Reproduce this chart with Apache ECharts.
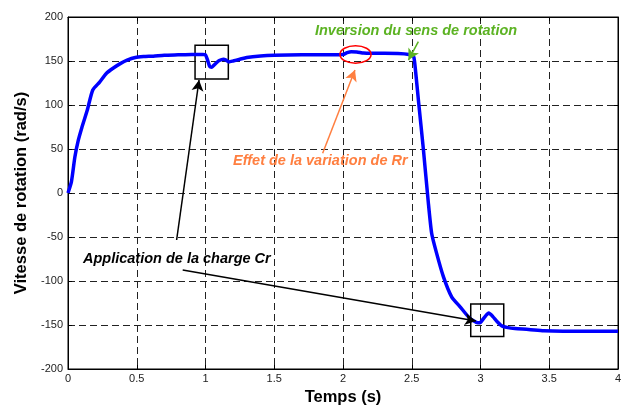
<!DOCTYPE html>
<html>
<head>
<meta charset="utf-8">
<script src="https://cdn.jsdelivr.net/npm/echarts@6/dist/echarts.min.js"></script>
<style>
  html, body { margin: 0; padding: 0; background: #fff; }
  #chart { width: 630px; height: 406px; }
</style>
</head>
<body>
<div id="chart"></div>
<script>
// Time samples (s) and rotor speed (rad/s)
const temps = [0, 0.025, 0.05, 0.075, 0.1, 0.14, 0.18, 0.23, 0.28, 0.33, 0.38, 0.43, 0.49, 0.55, 0.62, 0.7, 0.8, 0.9, 0.98,
  1.0, 1.015, 1.03, 1.045, 1.06, 1.08, 1.1, 1.13, 1.15, 1.17, 1.2, 1.25, 1.3, 1.4, 1.5, 1.7, 1.9,
  2.0, 2.03, 2.06, 2.1, 2.15, 2.2, 2.3, 2.4, 2.48, 2.51, 2.52, 2.55, 2.585, 2.62, 2.645, 2.68, 2.73, 2.79, 2.85, 2.92, 2.98,
  3.0, 3.03, 3.06, 3.09, 3.12, 3.155, 3.2, 3.25, 3.35, 3.46, 3.6, 4.0];
const vitesse = [0, 13, 41, 60, 74, 94, 117, 126, 136, 142, 147, 151, 154, 155, 155.5, 156.5, 157, 157.5, 157.5,
  157, 151, 144, 143, 145, 148, 150.5, 152, 151, 149, 150, 152, 154, 155.7, 156.5, 157, 157.2,
  157.5, 159.5, 160.6, 160.3, 159, 158.7, 158.7, 158.5, 157.5, 156, 150, 103, 49, -10, -46, -68, -95, -118, -129, -142, -147.5,
  -147, -141, -136.5, -140.5, -146, -151, -153, -154, -155, -156.5, -157, -157];

const xTicks = { min: 0, max: 4, step: 0.5 };
const yTicks = { min: -200, max: 200, step: 50 };

// Annotation boxes [t0, v0, t1, v1]
const boxes = [[0.924, 168, 1.166, 129.5], [2.929, -126, 3.169, -163]];
// Annotation arrows [tFrom, vFrom, tTo, vTo, colour]
const arrows = [
  [0.79, -53.4, 0.953, 128.4, '#000000'],
  [0.834, -87.5, 2.967, -145.5, '#000000'],
  [1.852, 45.1, 2.087, 139.8, '#ff7f40'],
  [2.548, 171.9, 2.476, 151.1, '#5cb323']
];
// Annotation texts [t, v, text, colour] (left edge, vertical centre)
const notes = [
  [1.796, 184.5, 'Inversion du sens de rotation', '#5cb323'],
  [1.20, 36.5, 'Effet de la variation de Rr', '#ff7f40'],
  [0.109, -75, 'Application de la charge Cr', '#000000']
];
// Ellipse around the Rr effect [t, v, rt, rv]
const ellipse = [2.091, 157.4, 0.113, 10];

const font = 'Liberation Sans, Arial, sans-serif';
const chart = echarts.init(document.getElementById('chart'));

const series = temps.map((t, i) => [t, vitesse[i]]);

const gridSplit = { show: true, lineStyle: { color: '#222', type: [7, 4], width: 1 } };

chart.setOption({
  animation: false,
  grid: {
    left: 68, right: 12, top: 17, bottom: 37, containLabel: false, outerBoundsMode: 'none',
    show: true, borderColor: '#000', borderWidth: 1
  },
  xAxis: [{
    type: 'value', min: xTicks.min, max: xTicks.max, interval: xTicks.step,
    name: 'Temps (s)', nameLocation: 'middle', nameGap: 19,
    nameTextStyle: { fontFamily: font, fontWeight: 'bold', fontSize: 16.5, color: '#000' },
    axisLine: { onZero: false, lineStyle: { color: '#000' } },
    axisTick: { inside: true, length: 4, lineStyle: { color: '#000' } },
    axisLabel: { fontFamily: font, fontSize: 11, color: '#222', margin: 4 },
    splitLine: gridSplit
  }, {
    type: 'value', position: 'top', min: xTicks.min, max: xTicks.max, interval: xTicks.step,
    axisLine: { onZero: false, lineStyle: { color: '#000' } },
    axisTick: { inside: true, length: 4, lineStyle: { color: '#000' } },
    axisLabel: { show: false }, splitLine: { show: false }
  }],
  yAxis: [{
    type: 'value', min: yTicks.min, max: yTicks.max, interval: yTicks.step,
    name: 'Vitesse de rotation (rad/s)', nameLocation: 'middle', nameGap: 33,
    nameTextStyle: { fontFamily: font, fontWeight: 'bold', fontSize: 16.5, color: '#000' },
    axisLine: { onZero: false, lineStyle: { color: '#000' } },
    axisTick: { inside: true, length: 4, lineStyle: { color: '#000' } },
    axisLabel: { fontFamily: font, fontSize: 11, color: '#222', margin: 5 },
    splitLine: gridSplit
  }, {
    type: 'value', position: 'right', min: yTicks.min, max: yTicks.max, interval: yTicks.step,
    axisLine: { onZero: false, lineStyle: { color: '#000' } },
    axisTick: { inside: true, length: 4, lineStyle: { color: '#000' } },
    axisLabel: { show: false }, splitLine: { show: false }
  }],
  series: [{
    type: 'line', data: series, showSymbol: false, smooth: 0.2,
    lineStyle: { color: '#0000ff', width: 3.5 },
    z: 3,
    markArea: {
      silent: true,
      itemStyle: { color: 'rgba(0,0,0,0)', borderColor: '#000', borderWidth: 1.5 },
      data: boxes.map(b => [{ coord: [b[0], b[1]] }, { coord: [b[2], b[3]] }])
    },
    markLine: {
      silent: true, symbol: ['none', 'arrow'], symbolSize: [9, 11],
      label: { show: false },
      data: arrows.map(a => [
        { coord: [a[0], a[1]], lineStyle: { color: a[4], width: 1.5, type: 'solid' }, itemStyle: { color: a[4] } },
        { coord: [a[2], a[3]] }
      ])
    }
  }]
});

function place() {
  const px = p => chart.convertToPixel({ gridIndex: 0 }, p);
  const c = px([ellipse[0], ellipse[1]]);
  const e = px([ellipse[0] + ellipse[2], ellipse[1] + ellipse[3]]);
  const graphic = [{
    type: 'ellipse', shape: { cx: c[0], cy: c[1], rx: Math.abs(e[0] - c[0]), ry: Math.abs(e[1] - c[1]) },
    style: { fill: 'none', stroke: '#ff0000', lineWidth: 1.5 }, z: 10
  }];
  notes.forEach(n => {
    const p = px([n[0], n[1]]);
    graphic.push({
      type: 'text', x: p[0], y: p[1], z: 10,
      style: { text: n[2], fill: n[3], font: 'italic bold 14.5px ' + font, textVerticalAlign: 'middle', textAlign: 'left' }
    });
  });
  chart.setOption({ graphic });
}
place();
</script>
</body>
</html>
